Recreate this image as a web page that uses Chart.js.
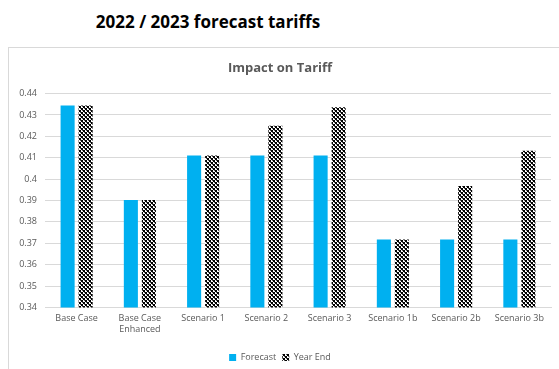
<!DOCTYPE html>
<html><head><meta charset="utf-8">
<script src="https://cdn.jsdelivr.net/npm/chart.js@4/dist/chart.umd.min.js"></script>
<style>
html,body{margin:0;padding:0;background:#fff;width:559px;height:369px;overflow:hidden;}
#h{position:absolute;left:0;top:10px;width:416px;text-align:center;font-family:'Open Sans',sans-serif;font-weight:bold;font-size:17px;color:#000;}
#box{position:absolute;left:8px;top:47px;width:560px;height:330px;border:1px solid #d9d9d9;box-sizing:border-box;}
#c{position:absolute;left:0;top:0;}
</style></head><body>
<div id="h">2022 / 2023 forecast tariffs</div>
<div id="box"><canvas id="c" width="558" height="328"></canvas></div>
<script>
const categories = [["Base Case"],["Base Case","Enhanced"],["Scenario 1"],["Scenario 2"],["Scenario 3"],["Scenario 1b"],["Scenario 2b"],["Scenario 3b"]];
const forecast = [0.4344,0.3902,0.4110,0.4110,0.4110,0.3718,0.3718,0.3718];
const yearEnd  = [0.4344,0.3902,0.4110,0.4250,0.4336,0.3718,0.3968,0.4133];
const seriesNames = ["Forecast","Year End"];
const yMin = 0.34, yMax = 0.44, yStep = 0.01;

function makePattern(){
  const p = document.createElement('canvas');
  p.width = 4; p.height = 4;
  const g = p.getContext('2d');
  g.fillStyle = '#fff'; g.fillRect(0,0,4,4);
  g.fillStyle = '#000';
  g.fillRect(0,0,2,2); g.fillRect(2,2,2,2);
  g.fillStyle = '#555';
  g.fillRect(1,2,1,1); g.fillRect(3,0,1,1);
  return document.getElementById('c').getContext('2d').createPattern(p,'repeat');
}
const pat = makePattern();
const font = "'Open Sans', sans-serif";
new Chart(document.getElementById('c'), {
  type: 'bar',
  data: {
    labels: categories,
    datasets: [
      {label: seriesNames[0], data: forecast, backgroundColor: '#00b0f0', barPercentage: 0.78, categoryPercentage: 0.57},
      {label: seriesNames[1], data: yearEnd, backgroundColor: pat, barPercentage: 0.78, categoryPercentage: 0.57}
    ]
  },
  options: {
    responsive: false,
    animation: false,
    layout: {padding: {left: 0, right: 16, top: 8, bottom: 4}},
    plugins: {
      title: {display: true, text: 'Impact on Tariff', color: '#595959', font: {family: font, size: 13, weight: 'bold'}, padding: {top: 4, bottom: 18}},
      legend: {position: 'bottom', labels: {color: '#595959', font: {family: font, size: 9}, boxWidth: 7, boxHeight: 7, padding: 6}},
      tooltip: {enabled: false}
    },
    scales: {
      x: {
        afterFit: s => { s.height += 6; },
        grid: {display: false, drawTicks: false},
        border: {color: '#d9d9d9'},
        ticks: {color: '#595959', font: {family: font, size: 9}, padding: 6, maxRotation: 0}
      },
      y: {
        min: yMin, max: yMax,
        afterFit: s => { s.width = 36; },
        grid: {color: '#d9d9d9', drawTicks: false},
        border: {display: false},
        ticks: {stepSize: yStep, color: '#595959', font: {family: font, size: 9}, padding: 8,
          callback: v => String(parseFloat(v.toFixed(2)))}
      }
    }
  }
});
</script>
</body></html>
